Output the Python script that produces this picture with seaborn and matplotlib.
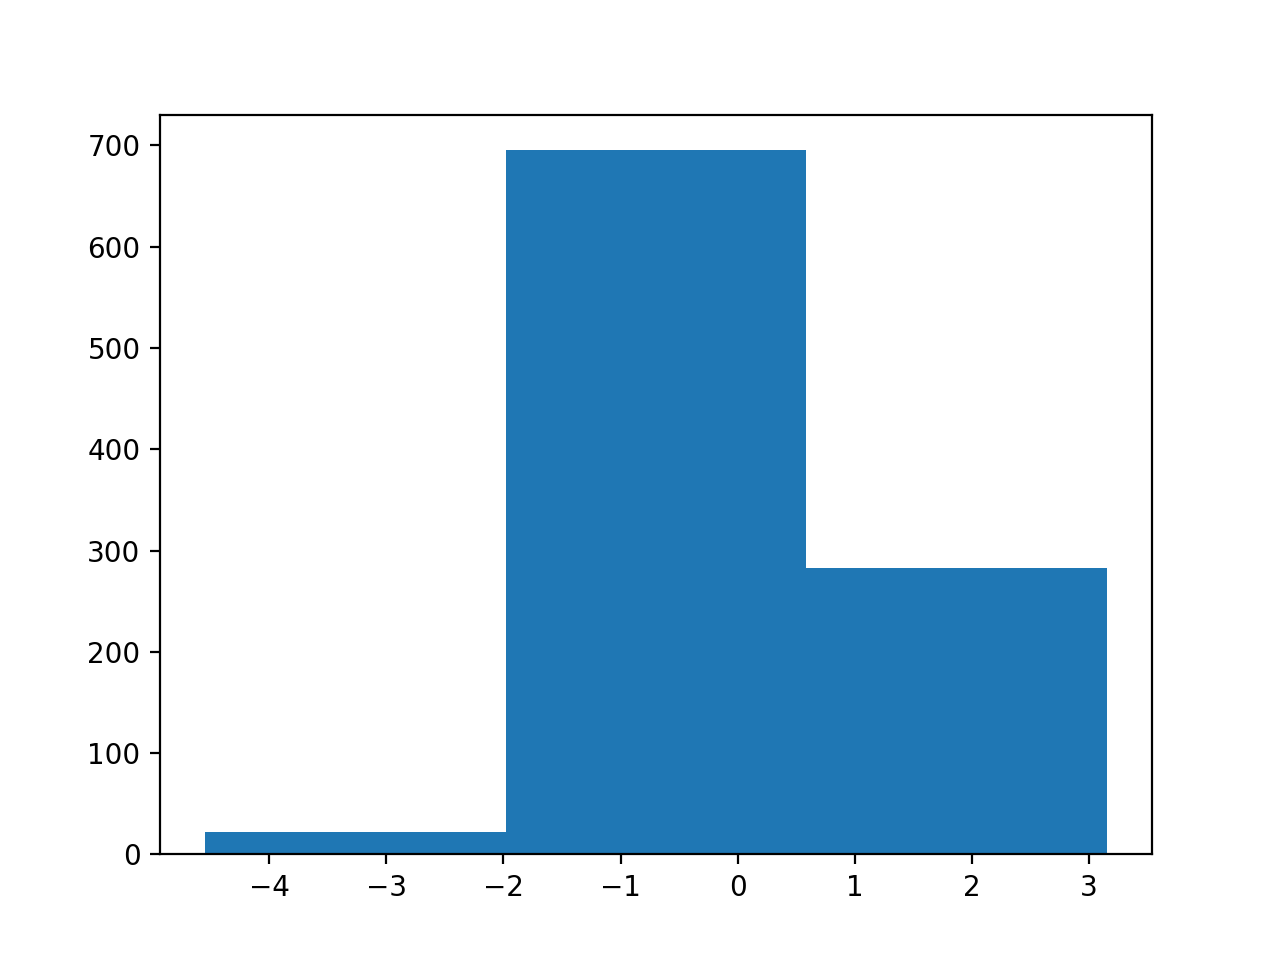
import numpy as np
import matplotlib
matplotlib.use("Agg")
import matplotlib.pyplot as plt
import seaborn as sns

# bin edges and counts
bin_edges = [-4.547, -1.981, 0.585, 3.151]
counts = [22, 695, 283]

centers = [(a + b) / 2 for a, b in zip(bin_edges[:-1], bin_edges[1:])]

fig, ax = plt.subplots(figsize=(6.4, 4.8), dpi=200)
sns.histplot(x=centers, weights=counts, bins=bin_edges, ax=ax,
             color='#1f77b4', alpha=1, edgecolor='none', linewidth=0)
ax.set_xlabel('')
ax.set_ylabel('')
ax.margins(x=0.05)

plt.savefig('out.png', dpi=200)
